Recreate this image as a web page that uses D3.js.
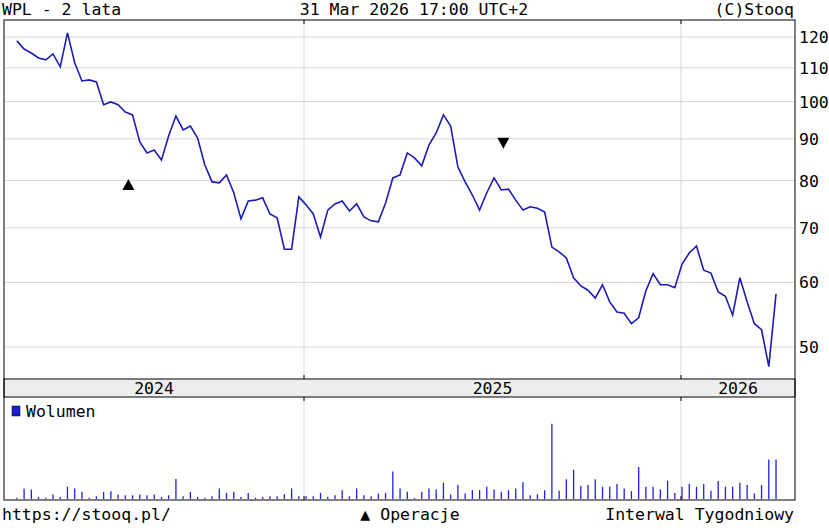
<!DOCTYPE html><html><head><meta charset="utf-8">
<script src="https://cdn.jsdelivr.net/npm/d3@7"></script>
<style>body{margin:0;background:#fff}text{font-family:"DejaVu Sans Mono",monospace}</style></head><body>
<svg id="c" width="829" height="530"></svg>
<script>
const prices=[118.7,116.0,114.7,113.1,112.5,114.4,110.3,121.4,111.6,106.0,106.3,105.7,99.1,99.9,99.1,97.1,96.3,89.2,86.5,87.2,84.8,90.8,96.0,92.3,93.3,90.2,83.6,79.7,79.5,81.3,77.3,71.8,75.5,75.7,76.2,72.8,72.0,65.9,65.9,76.4,74.7,72.8,68.2,73.6,74.9,75.5,73.4,74.9,72.2,71.4,71.2,75.1,80.6,81.3,86.5,85.3,83.4,88.5,91.5,96.3,93.3,83.1,79.7,76.8,73.6,77.3,80.6,77.9,78.1,75.7,73.6,74.3,74.0,73.2,66.3,65.4,64.3,60.8,59.4,58.7,57.4,59.6,56.8,55.2,55.0,53.4,54.3,58.6,61.5,59.6,59.6,59.1,63.2,65.2,66.5,62.1,61.6,58.4,57.7,54.7,60.8,56.8,53.4,52.5,47.3,58.1];
const volumes=[4,31,28,6,4,13,6,36,31,21,4,8,21,23,13,11,11,13,11,13,6,11,59,8,21,6,4,8,31,18,21,6,18,4,6,8,8,14,31,8,8,8,18,6,11,26,8,31,11,8,16,18,81,31,21,3,21,31,28,48,13,41,16,26,26,36,28,21,26,31,49,11,14,26,221,24,58,86,38,41,58,36,36,44,31,23,94,36,36,28,54,18,36,44,36,44,24,53,36,36,48,41,16,41,116,116];
const priceTicks=[50,60,70,80,90,100,110,120];
const years=["2024","2025","2026"];
const ops=[{date:"2024-07-15",price:79,type:"buy"},{date:"2025-07-13",price:89,type:"sell"}];
const lastDate=new Date(2026,3,3);
const n=prices.length;
const dates=prices.map((p,i)=>d3.timeDay.offset(lastDate,-7*(n-1-i)));
const L=4,R=795,T=20,PB=379,BB=397,VB=500;
const y25=new Date(2025,0,1),y26=new Date(2026,0,1);
const lin=d3.scaleLinear().domain([+y25,+y26]).range([304,681]);
const x=d3.scaleTime().domain([new Date(lin.invert(L)),new Date(lin.invert(R))]).range([L,R]);
const y=d3.scaleLog().domain([50,120]).range([347,37]);
const yv=d3.scaleLinear().domain([0,300]).range([499,397]);
const svg=d3.select("#c");
const FS=16.5;
const yb=[new Date(2024,0,1),y25,y26,new Date(2027,0,1)];
svg.append("g").selectAll("line").data(priceTicks).join("line").attr("x1",L).attr("x2",R).attr("y1",d=>y(d)).attr("y2",d=>y(d)).attr("stroke","#d8d8d8");
[y25,y26].forEach(d=>{[[T,PB],[BB,VB]].forEach(([a,b])=>{svg.append("line").attr("x1",x(d)).attr("x2",x(d)).attr("y1",a).attr("y2",b).attr("stroke","#d8d8d8");svg.append("line").attr("x1",x(d)).attr("x2",x(d)).attr("y1",a).attr("y2",a+4).attr("stroke","#000");svg.append("line").attr("x1",x(d)).attr("x2",x(d)).attr("y1",b-4).attr("y2",b).attr("stroke","#000");});});
svg.append("rect").attr("x",L).attr("y",PB).attr("width",R-L).attr("height",BB-PB).attr("fill","#eeeeee").attr("stroke","#000");
years.forEach((t,i)=>{const a=Math.max(L,x(yb[i])),b=Math.min(R,x(yb[i+1]));svg.append("text").attr("x",(a+b)/2).attr("y",394).attr("text-anchor","middle").attr("font-size",FS).text(t);});
svg.append("rect").attr("x",L).attr("y",T).attr("width",R-L).attr("height",VB-T).attr("fill","none").attr("stroke","#000");
svg.append("g").selectAll("text").data(priceTicks).join("text").attr("x",799).attr("y",d=>y(d)+6).attr("font-size",FS).text(d=>d);
svg.append("path").datum(prices).attr("fill","none").attr("stroke","#1c1cb4").attr("stroke-width",1.6)
 .attr("d",d3.line().x((d,i)=>x(dates[i])).y(d=>y(d)));
ops.forEach(o=>{const cx=x(new Date(o.date)),cy=y(o.price);const s=6;
 svg.append("path").attr("fill","#000").attr("d",o.type==="buy"?`M${cx-s},${cy+5}L${cx+s},${cy+5}L${cx},${cy-6}Z`:`M${cx-s},${cy-5}L${cx+s},${cy-5}L${cx},${cy+6}Z`);});
svg.append("g").selectAll("line").data(volumes).join("line").attr("x1",(d,i)=>x(dates[i])).attr("x2",(d,i)=>x(dates[i])).attr("y1",yv(0)).attr("y2",d=>yv(d)).attr("stroke","#2020e0").attr("stroke-width",1.3);
svg.append("rect").attr("x",12).attr("y",406).attr("width",8).attr("height",10).attr("fill","#1c1cd0").attr("stroke","#000").attr("stroke-width",0.5);
svg.append("text").attr("x",26).attr("y",417).attr("font-size",FS).text("Wolumen");
svg.append("text").attr("x",2).attr("y",15).attr("font-size",FS).text("WPL - 2 lata");
svg.append("text").attr("x",414).attr("y",15).attr("text-anchor","middle").attr("font-size",FS).text("31 Mar 2026 17:00 UTC+2");
svg.append("text").attr("x",794).attr("y",15).attr("text-anchor","end").attr("font-size",FS).text("(C)Stooq");
svg.append("text").attr("x",2).attr("y",520).attr("font-size",FS).text("https://stooq.pl/");
svg.append("text").attr("x",410).attr("y",520).attr("text-anchor","middle").attr("font-size",FS).text("▲ Operacje");
svg.append("text").attr("x",794).attr("y",520).attr("text-anchor","end").attr("font-size",FS).text("Interwal Tygodniowy");
</script></body></html>
